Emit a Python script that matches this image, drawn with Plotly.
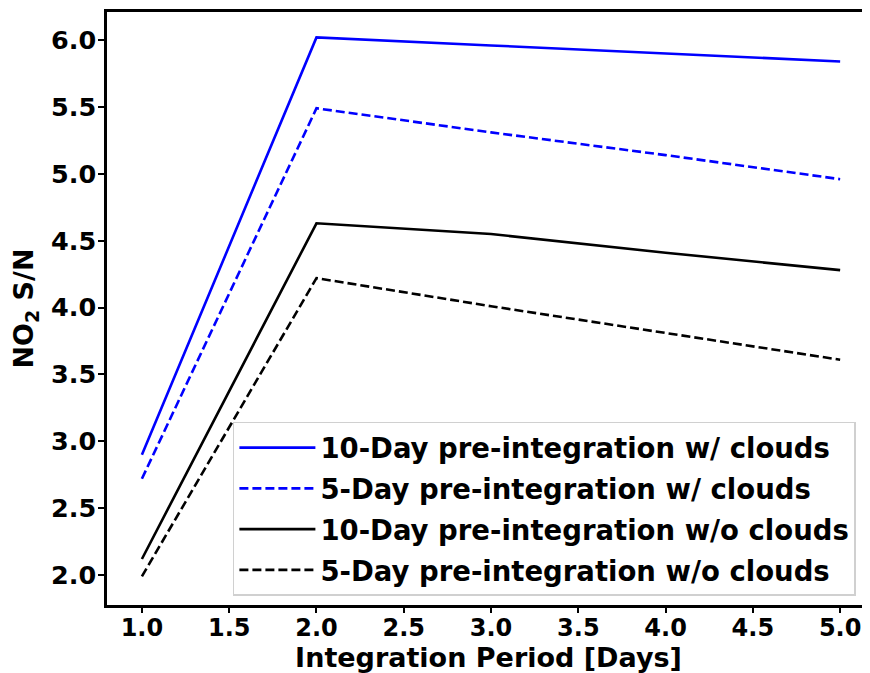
import plotly.graph_objects as go

days = [1, 2, 3, 4, 5]
blue_10 = [2.90, 6.02, 5.96, 5.90, 5.84]
blue_5 = [2.72, 5.49, 5.31, 5.14, 4.96]
black_10 = [2.12, 4.63, 4.55, 4.41, 4.28]
black_5 = [1.99, 4.22, 4.01, 3.81, 3.61]
names = ["10-Day pre-integration w/ clouds", "5-Day pre-integration w/ clouds",
         "10-Day pre-integration w/o clouds", "5-Day pre-integration w/o clouds"]
xticks = [1.0, 1.5, 2.0, 2.5, 3.0, 3.5, 4.0, 4.5, 5.0]
yticks = [2.0, 2.5, 3.0, 3.5, 4.0, 4.5, 5.0, 5.5, 6.0]

series = [(blue_10, "blue", "solid"), (blue_5, "blue", "9px,4px"),
          (black_10, "black", "solid"), (black_5, "black", "9px,4px")]

FONT = "DejaVu Sans"
fig = go.Figure()
for i, ((vals, col, dash), nm) in enumerate(zip(series, names)):
    fig.add_trace(go.Scatter(x=days, y=vals, mode="lines", name=nm, legendgroup=f"g{i}",
                             line=dict(color=col, dash=dash, width=2.6)))

fig.update_layout(
    width=862, height=665,
    margin=dict(l=99, r=0, t=4, b=68),
    plot_bgcolor="white", paper_bgcolor="white",
    font=dict(family=FONT, color="black", size=25),
    showlegend=True,
    legend=dict(x=0.165, y=0.309, xanchor="left", yanchor="top",
                bordercolor="#d0d0d0", borderwidth=1.5, bgcolor="rgba(255,255,255,0.8)",
                font=dict(family=FONT, size=27.5, color="black", weight="bold"),
                tracegroupgap=2, traceorder="grouped", itemwidth=76),
    xaxis=dict(range=[0.8, 5.171], tickvals=xticks, ticktext=[f"{v:.1f}" for v in xticks],
               showgrid=False, zeroline=False, showline=True, linecolor="black", linewidth=2.5,
               mirror=True, ticks="outside", ticklen=5, tickwidth=2, tickcolor="black",
               ticklabelstandoff=-6,
               tickfont=dict(family=FONT, size=24, weight="bold"),
               title=dict(text="Integration Period [Days]", standoff=0,
                          font=dict(family=FONT, size=27, weight="bold"))),
    yaxis=dict(range=[1.776, 6.21], tickvals=yticks, ticktext=[f"{v:.1f}" for v in yticks],
               showgrid=False, zeroline=False, showline=True, linecolor="black", linewidth=2.5,
               mirror=False, ticks="outside", ticklen=6, tickwidth=2, tickcolor="black",
               ticklabelstandoff=-3,
               tickfont=dict(family=FONT, size=25.5, weight="bold"),
               title=dict(text="NO<sub>2</sub> S/N", standoff=12,
                          font=dict(family=FONT, size=27, weight="bold"))),
)

fig.write_html("out.html")
